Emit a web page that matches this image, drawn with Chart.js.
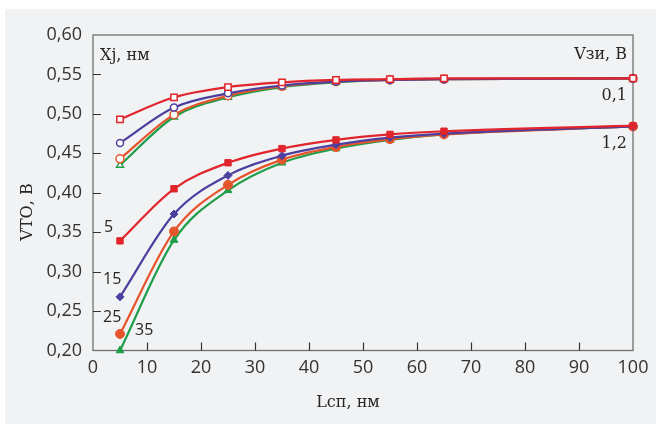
<!DOCTYPE html>
<html>
<head>
<meta charset="utf-8">
<script src="https://cdn.jsdelivr.net/npm/chart.js@4.4.1/dist/chart.umd.min.js"></script>
<style>
  html, body { margin: 0; padding: 0; background: #fff; }
  #wrap { width: 656px; height: 424px; }
</style>
</head>
<body>
<div id="wrap"><canvas id="c"></canvas></div>
<script>
// Lсп, нм
const lengths = [5, 15, 25, 35, 45, 55, 65, 100];

// Vзи = 0,1 В, by Xj
const v01xj5  = [0.493, 0.521, 0.534, 0.540, 0.543, 0.544, 0.545, 0.545];
const v01xj15 = [0.463, 0.508, 0.526, 0.536, 0.541, 0.543, 0.544, 0.545];
const v01xj25 = [0.443, 0.499, 0.523, 0.535, 0.541, 0.543, 0.544, 0.545];
const v01xj35 = [0.435, 0.496, 0.521, 0.534, 0.540, 0.543, 0.544, 0.545];

// Vзи = 1,2 В, by Xj
const v12xj5  = [0.339, 0.405, 0.438, 0.456, 0.467, 0.474, 0.478, 0.485];
const v12xj15 = [0.268, 0.373, 0.422, 0.447, 0.461, 0.470, 0.475, 0.484];
const v12xj25 = [0.221, 0.351, 0.410, 0.442, 0.458, 0.468, 0.474, 0.484];
const v12xj35 = [0.200, 0.340, 0.403, 0.438, 0.456, 0.467, 0.474, 0.484];

const RED = '#e0252c', BLUE = '#4d3f9f', ORANGE = '#e6542c', GREEN = '#1f9e4a';
const SANS = '"Open Sans", sans-serif';
const SERIF = '"DejaVu Serif", serif';

function series(label, vals, color, style, open, r) {
  return {
    label,
    data: lengths.map((x, i) => ({ x, y: vals[i] })),
    borderColor: color,
    backgroundColor: color,
    borderWidth: 2.2,
    pointStyle: style,
    pointRadius: r,
    pointBackgroundColor: open ? '#ffffff' : color,
    pointBorderColor: color,
    pointBorderWidth: open ? 1.5 : 1,
    cubicInterpolationMode: 'monotone',
    clip: 6,
  };
}

// first dataset is drawn on top
const datasets = [
  series('5 / 0,1', v01xj5, RED, 'rect', true, 4.5),
  series('5 / 1,2', v12xj5, RED, 'rect', false, 4.5),
  series('15 / 0,1', v01xj15, BLUE, 'circle', true, 3.5),
  series('15 / 1,2', v12xj15, BLUE, 'rectRot', false, 4),
  series('25 / 0,1', v01xj25, ORANGE, 'circle', true, 4),
  series('25 / 1,2', v12xj25, ORANGE, 'circle', false, 4.5),
  series('35 / 0,1', v01xj35, GREEN, 'triangle', true, 4),
  series('35 / 1,2', v12xj35, GREEN, 'triangle', false, 4.5),
];

const comma = v => Number(v).toFixed(2).replace('.', ',');

const overlay = {
  id: 'overlay',
  beforeDraw(chart) {
    const ctx = chart.ctx;
    ctx.save();
    ctx.fillStyle = '#f1f2f4';
    ctx.fillRect(5, 9, chart.width - 5, chart.height - 9);
    ctx.restore();
  },
  beforeDatasetsDraw(chart) {
    const { ctx, chartArea: a, scales: { x, y } } = chart;
    ctx.save();
    ctx.strokeStyle = '#6f6f6f';
    ctx.lineWidth = 1.3;
    ctx.strokeRect(a.left, a.top, a.right - a.left, a.bottom - a.top);
    ctx.strokeStyle = '#333';
    ctx.lineWidth = 1.2;
    ctx.beginPath();
    x.ticks.slice(1, -1).forEach(t => {
      const px = Math.round(x.getPixelForValue(t.value)) + 0.5;
      ctx.moveTo(px, a.bottom);
      ctx.lineTo(px, a.bottom - 8);
    });
    y.ticks.slice(1, -1).forEach(t => {
      const py = Math.round(y.getPixelForValue(t.value)) + 0.5;
      ctx.moveTo(a.left, py);
      ctx.lineTo(a.left + 8, py);
    });
    ctx.stroke();
    ctx.restore();
  },
  afterDraw(chart) {
    const ctx = chart.ctx;
    ctx.save();
    ctx.fillStyle = '#262626';
    ctx.textBaseline = 'middle';

    ctx.font = '16px ' + SERIF;
    ctx.textAlign = 'left';
    ctx.fillText('Xj, нм', 100, 56);
    ctx.textAlign = 'right';
    ctx.fillText('Vзи, В', 627, 55);
    ctx.fillText('0,1', 627, 96);
    ctx.fillText('1,2', 627, 144);
    ctx.textAlign = 'center';
    ctx.fillText('Lсп, нм', 348, 403);

    ctx.save();
    ctx.translate(28, 212);
    ctx.rotate(-Math.PI / 2);
    ctx.fillText('VТО, В', 0, 0);
    ctx.restore();

    ctx.font = '16px ' + SANS;
    ctx.textAlign = 'left';
    ctx.fillText('5', 104, 227);
    ctx.fillText('15', 103, 279);
    ctx.fillText('25', 103, 317);
    ctx.fillText('35', 135, 330);
    ctx.restore();
  },
};

new Chart(document.getElementById('c'), {
  type: 'line',
  data: { datasets },
  options: {
    responsive: true,
    maintainAspectRatio: false,
    devicePixelRatio: 1,
    animation: false,
    layout: { padding: { top: 35, right: 23, left: 0, bottom: 0 } },
    plugins: {
      legend: { display: false },
      tooltip: { enabled: false },
    },
    scales: {
      x: {
        type: 'linear',
        min: 0,
        max: 100,
        ticks: {
          stepSize: 10,
          autoSkip: false,
          maxRotation: 0,
          padding: 7,
          color: '#333',
          font: { family: SANS, size: 18 },
        },
        grid: { display: false, drawTicks: false },
        border: { display: false },
        afterFit: s => { s.height = 73.5; },
      },
      y: {
        min: 0.2,
        max: 0.6,
        ticks: {
          stepSize: 0.05,
          padding: 11,
          color: '#333',
          font: { family: SANS, size: 18 },
          callback: comma,
        },
        grid: { display: false, drawTicks: false },
        border: { display: false },
        afterFit: s => { s.height !== undefined && (s.width = 93); },
      },
    },
  },
  plugins: [overlay],
});
</script>
</body>
</html>
